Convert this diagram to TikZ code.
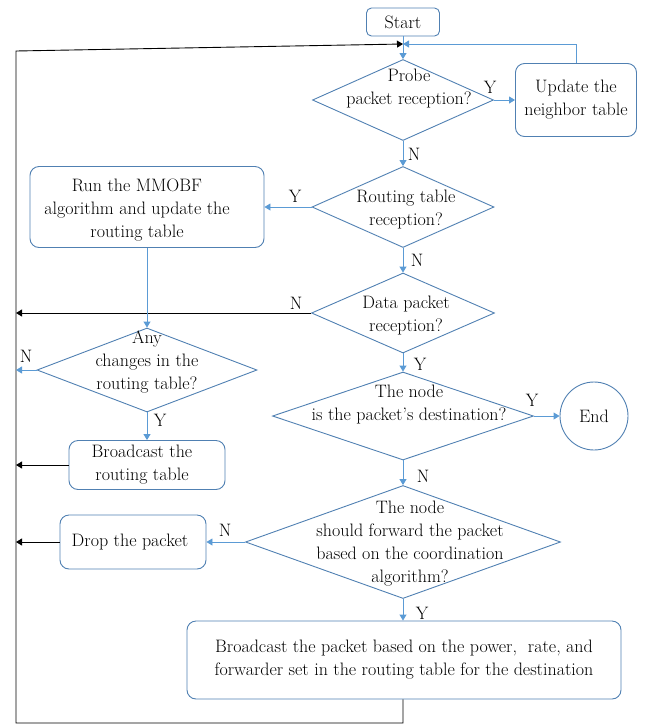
\documentclass[tikz,border=0pt]{standalone}
\usetikzlibrary{shapes.geometric,arrows.meta}
\definecolor{flowline}{RGB}{91,155,213}
\definecolor{flowedge}{RGB}{80,128,178}
\tikzset{
  procbox/.style={draw=flowedge, line width=0.9pt, rounded corners=9pt, inner sep=0pt, align=center},
  decbox/.style={draw=flowedge, line width=0.9pt, diamond, inner sep=0pt},
  flowtext/.style={align=center, inner sep=0pt},
  bluearr/.style={draw=flowline, line width=0.9pt, -{Triangle[length=6pt,width=7pt]}},
  blackarr/.style={draw=black, line width=0.9pt, -{Triangle[length=6pt,width=7pt]}},
  yn/.style={inner sep=0pt}
}
\begin{document}
\begin{tikzpicture}[x=1pt, y=-1pt, font=\fontsize{18}{23}\selectfont]
	\useasboundingbox (0,0) rectangle (645,724);
	\node[procbox, rounded corners=5pt, minimum width=73pt, minimum height=28pt] (start) at (403,22) {Start};
	\node[decbox, minimum width=181pt, minimum height=81pt] (d1) at (403,100) {};
	\node[flowtext] (d1t) at (409,89) {Probe\\packet reception?};
	\node[procbox, minimum width=121pt, minimum height=73pt] (upd) at (576,100) {Update the\\neighbor table};
	\node[decbox, minimum width=182pt, minimum height=81pt] (d2) at (403,207) {};
	\node[flowtext] (d2t) at (406,210) {Routing table\\reception?};
	\node[procbox, minimum width=234pt, minimum height=81pt] (run) at (147,207) {};
	\node[flowtext] (runt) at (137,210) {Run the MMOBF\\algorithm and update the\\routing table};
	\node[decbox, minimum width=183pt, minimum height=80pt] (d3) at (403,313) {};
	\node[flowtext] (d3t) at (406,316) {Data packet\\reception?};
	\node[decbox, minimum width=220pt, minimum height=84pt] (d4) at (147,370) {};
	\node[flowtext] (d4t) at (147,362) {Any\\changes in the\\routing table?};
	\node[procbox, minimum width=156pt, minimum height=49pt] (bcr) at (147,465) {};
	\node[flowtext] (bcrt) at (142,465) {Broadcast the\\routing table};
	\node[decbox, minimum width=261pt, minimum height=88pt] (d5) at (403,416) {};
	\node[flowtext] (d5t) at (409,405) {The node\\is the packet's destination?};
	\node[circle, draw=flowedge, line width=0.9pt, minimum size=68pt, inner sep=0pt] (endc) at (594,416) {End};
	\node[decbox, minimum width=315pt, minimum height=113pt] (d6) at (403,542) {};
	\node[flowtext] (d6t) at (410,544) {The node\\should forward the packet\\based on the coordination\\algorithm?};
	\node[procbox, minimum width=146pt, minimum height=54pt] (drop) at (133,542) {};
	\node[flowtext] (dropt) at (130,542) {Drop the packet};
	\node[procbox, minimum width=434pt, minimum height=78pt] (bcp) at (404,660) {Broadcast the packet based on the power,\ \ rate, and\\forwarder set in the routing table for the destination};
	\coordinate (join) at (403,44);
	\coordinate (topl) at (16,51);
	\coordinate (botl) at (16,723);
	\draw[bluearr] (start) -- (d1);
	\draw[bluearr] (upd.north) |- (join);
	\draw[blackarr] (bcp.south -| d6.south) -- (d6.south |- botl) -- (botl) -- (topl) -- (join);
	\draw[bluearr] (d1.east) -- (d1.east -| upd.west);
	\draw[bluearr] (d1) -- (d2);
	\draw[bluearr] (d2.west) -- (d2.west -| run.east);
	\draw[bluearr] (d2) -- (d3);
	\draw[blackarr] (d3.west) -- (d3.west -| topl);
	\draw[bluearr] (run) -- (d4);
	\draw[bluearr] (d4.west) -- (d4.west -| topl);
	\draw[bluearr] (d4) -- (bcr);
	\draw[blackarr] (bcr.west) -- (bcr.west -| topl);
	\draw[bluearr] (d3) -- (d5);
	\draw[bluearr] (d5) -- (endc);
	\draw[bluearr] (d5) -- (d6);
	\draw[bluearr] (d6) -- (drop);
	\draw[blackarr] (drop.west) -- (drop.west -| topl);
	\draw[bluearr] (d6) -- (d6 |- bcp.north);
	\node[yn] (y1) at (490,87) {Y};
	\node[yn] (n1) at (414,154) {N};
	\node[yn] (y2) at (295,196) {Y};
	\node[yn] (n2) at (417,260) {N};
	\node[yn] (n3) at (296,303) {N};
	\node[yn] (y3) at (420,364) {Y};
	\node[yn] (n4) at (26,356) {N};
	\node[yn] (y4) at (160,420) {Y};
	\node[yn] (y5) at (532,400) {Y};
	\node[yn] (n5) at (423,476) {N};
	\node[yn] (n6) at (225,530) {N};
	\node[yn] (y6) at (422,613) {Y};
\end{tikzpicture}
\end{document}
